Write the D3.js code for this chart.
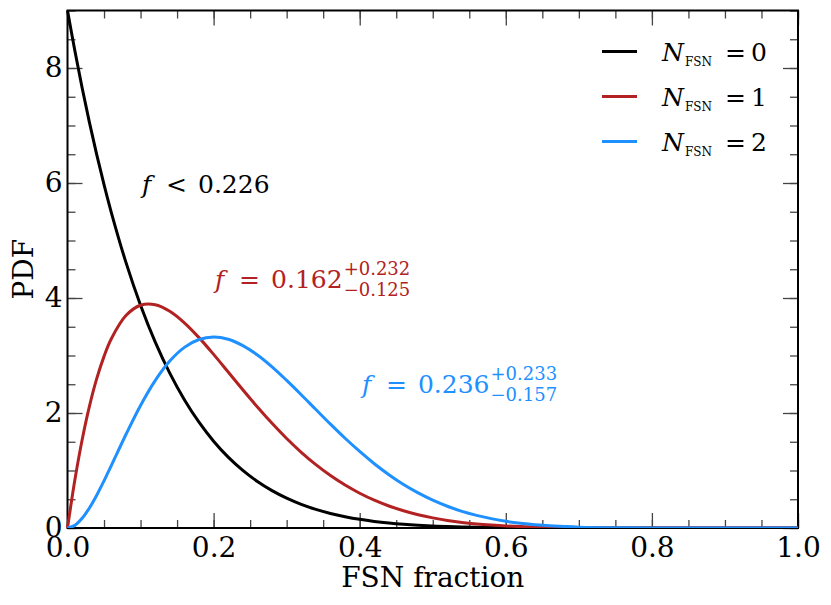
<!DOCTYPE html>
<html>
<head>
<meta charset="utf-8">
<script src="https://cdn.jsdelivr.net/npm/d3@7"></script>
<style>
  body { margin: 0; background: #fff; }
  svg { display: block; }
  text { font-family: "DejaVu Serif", serif; }
</style>
</head>
<body>
<svg id="chart" width="831" height="605"></svg>
<script>
// FSN fraction grid (x) and PDF values
const fraction = [0, 0.01, 0.02, 0.03, 0.04, 0.05, 0.06, 0.08, 0.10, 0.12, 0.14, 0.16, 0.18, 0.20,
  0.22, 0.24, 0.26, 0.28, 0.30, 0.32, 0.34, 0.36, 0.38, 0.40, 0.42, 0.44, 0.46, 0.48, 0.50,
  0.52, 0.54, 0.56, 0.58, 0.60, 0.62, 0.64, 0.66, 0.68, 0.70, 0.75, 0.80, 0.90, 1.00];

const pdfN0 = [9.000, 8.305, 7.657, 7.054, 6.493, 5.971, 5.486, 4.619, 3.874, 3.237, 2.693, 2.231, 1.840, 1.510,
  1.233, 1.002, 0.809, 0.650, 0.519, 0.411, 0.324, 0.253, 0.197, 0.151, 0.115, 0.087, 0.065, 0.048, 0.035,
  0.025, 0.018, 0.013, 0.009, 0.006, 0.004, 0.003, 0.002, 0.001, 0.001, 0.000, 0, 0, 0];

const pdfN1 = [0, 0.830, 1.531, 2.116, 2.597, 2.985, 3.292, 3.695, 3.874, 3.884, 3.770, 3.569, 3.311, 3.020,
  2.713, 2.404, 2.104, 1.820, 1.556, 1.317, 1.102, 0.912, 0.747, 0.605, 0.484, 0.383, 0.299, 0.231, 0.176,
  0.132, 0.097, 0.071, 0.051, 0.035, 0.024, 0.016, 0.011, 0.007, 0.004, 0.001, 0, 0, 0];

const pdfN2 = [0, 0.046, 0.168, 0.349, 0.571, 0.821, 1.086, 1.626, 2.131, 2.563, 2.903, 3.141, 3.278, 3.322,
  3.283, 3.173, 3.009, 2.803, 2.567, 2.318, 2.061, 1.806, 1.561, 1.331, 1.118, 0.927, 0.756, 0.610, 0.484,
  0.378, 0.288, 0.219, 0.163, 0.116, 0.082, 0.056, 0.040, 0.026, 0.015, 0.004, 0.001, 0, 0];

const seriesLabels = ["0", "1", "2"];
const seriesColors = ["#000000", "#b22222", "#1e90ff"];
const seriesValues = [pdfN0, pdfN1, pdfN2];

const xTicks = [0, 0.2, 0.4, 0.6, 0.8, 1.0];
const yTicks = [0, 2, 4, 6, 8];

// annotation anchors in data units, with the quoted fraction
const notes = [
  { x: 0.102, y: 5.83, op: "<", value: "0.226", plus: null, minus: null, color: "#000000" },
  { x: 0.202, y: 4.17, op: "=", value: "0.162", plus: "+0.232", minus: "\u22120.125", color: "#b22222" },
  { x: 0.403, y: 2.35, op: "=", value: "0.236", plus: "+0.233", minus: "\u22120.157", color: "#1e90ff" },
];

const width = 831, height = 605;
const margin = { top: 10.5, right: 33, bottom: 77, left: 67.5 };
const innerW = width - margin.left - margin.right;
const innerH = height - margin.top - margin.bottom;

const svg = d3.select("#chart");
const g = svg.append("g").attr("transform", `translate(${margin.left},${margin.top})`);

const x = d3.scaleLinear().domain([0, 1]).range([0, innerW]);
const y = d3.scaleLinear().domain([0, 9]).range([innerH, 0]);

const tickFont = 28;
const tickColor = "#444";

// minor ticks (no labels) on all four sides
const xMinor = d3.range(0, 1.0001, 0.05);
const yMinor = d3.range(0, 9.0001, 0.5);
const minorLen = 8, majorLen = 15;

const addAxis = (axis, transform) => {
  const sel = g.append("g").attr("transform", transform).call(axis);
  sel.select(".domain").remove();
  sel.selectAll(".tick line").attr("stroke", tickColor).attr("stroke-width", 1.3);
  return sel;
};

addAxis(d3.axisBottom(x).tickValues(xMinor).tickSize(-minorLen).tickFormat(""), `translate(0,${innerH})`);
addAxis(d3.axisTop(x).tickValues(xMinor).tickSize(-minorLen).tickFormat(""), "translate(0,0)");
addAxis(d3.axisLeft(y).tickValues(yMinor).tickSize(-minorLen).tickFormat(""), "translate(0,0)");
addAxis(d3.axisRight(y).tickValues(yMinor).tickSize(-minorLen).tickFormat(""), `translate(${innerW},0)`);

const xAxis = addAxis(
  d3.axisBottom(x).tickValues(xTicks).tickSize(-majorLen).tickPadding(9).tickFormat(d3.format(".1f")),
  `translate(0,${innerH})`
);
xAxis.selectAll("text").attr("font-size", tickFont).attr("fill", "#000").attr("font-family", "DejaVu Serif");

addAxis(d3.axisTop(x).tickValues(xTicks).tickSize(-majorLen).tickFormat(""), "translate(0,0)");

const yAxis = addAxis(
  d3.axisLeft(y).tickValues(yTicks).tickSize(-majorLen).tickPadding(5).tickFormat(d3.format("d")),
  "translate(0,0)"
);
yAxis.selectAll("text").attr("font-size", tickFont).attr("fill", "#000").attr("font-family", "DejaVu Serif");

addAxis(d3.axisRight(y).tickValues(yTicks).tickSize(-majorLen).tickFormat(""), `translate(${innerW},0)`);

// frame
g.append("rect")
  .attr("width", innerW).attr("height", innerH)
  .attr("fill", "none").attr("stroke", "#000").attr("stroke-width", 2);

// curves
svg.append("clipPath").attr("id", "plotClip")
  .append("rect").attr("x", -2).attr("y", -2).attr("width", innerW + 4).attr("height", innerH + 2);

const line = d3.line()
  .x((d) => x(d[0]))
  .y((d) => y(d[1]))
  .curve(d3.curveCatmullRom.alpha(0.5));

g.append("g").attr("clip-path", "url(#plotClip)")
  .selectAll("path")
  .data(seriesValues)
  .join("path")
  .attr("fill", "none")
  .attr("stroke", (d, i) => seriesColors[i])
  .attr("stroke-width", 3)
  .attr("stroke-linejoin", "round")
  .attr("d", (vals) => line(fraction.map((f, i) => [f, vals[i]])));

// annotations
const noteFont = 25, scriptFont = 18;
notes.forEach((n) => {
  const nx = x(n.x), ny = y(n.y);
  const t = g.append("text").attr("fill", n.color).attr("font-size", noteFont);
  t.append("tspan").attr("x", nx).attr("y", ny).attr("font-style", "italic").text("f");
  t.append("tspan").attr("x", nx + 24).attr("y", ny).text(n.op);
  const val = g.append("text").attr("fill", n.color).attr("font-size", noteFont)
    .attr("x", nx + 56).attr("y", ny).text(n.value);
  if (n.plus) {
    const endX = nx + 56 + val.node().getComputedTextLength() + 1;
    g.append("text").attr("fill", n.color).attr("font-size", scriptFont)
      .attr("x", endX).attr("y", ny - 13).text(n.plus);
    g.append("text").attr("fill", n.color).attr("font-size", scriptFont)
      .attr("x", endX).attr("y", ny + 8).text(n.minus);
  }
});

// legend
const legend = g.append("g").attr("transform", `translate(${innerW - 196},${41})`);
seriesLabels.forEach((lab, i) => {
  const row = legend.append("g").attr("transform", `translate(0,${i * 45})`);
  row.append("line").attr("x1", 0).attr("x2", 35).attr("y1", 0).attr("y2", 0)
    .attr("stroke", seriesColors[i]).attr("stroke-width", 3);
  const t = row.append("text").attr("font-size", 25).attr("fill", "#000").attr("y", 9);
  t.append("tspan").attr("x", 60).attr("font-style", "italic").text("N");
  t.append("tspan").attr("font-size", 12).attr("dy", 5).attr("dx", 1).text("FSN");
  t.append("tspan").attr("x", 123).attr("dy", -5).text("=");
  t.append("tspan").attr("x", 149).text(lab);
});

// axis titles
svg.append("text")
  .attr("x", margin.left + innerW / 2).attr("y", 587)
  .attr("text-anchor", "middle").attr("font-size", 28).attr("fill", "#000")
  .text("FSN fraction");

svg.append("text")
  .attr("transform", `translate(33,${margin.top + innerH / 2}) rotate(-90)`)
  .attr("text-anchor", "middle").attr("font-size", 28).attr("fill", "#000")
  .text("PDF");
</script>
</body>
</html>
